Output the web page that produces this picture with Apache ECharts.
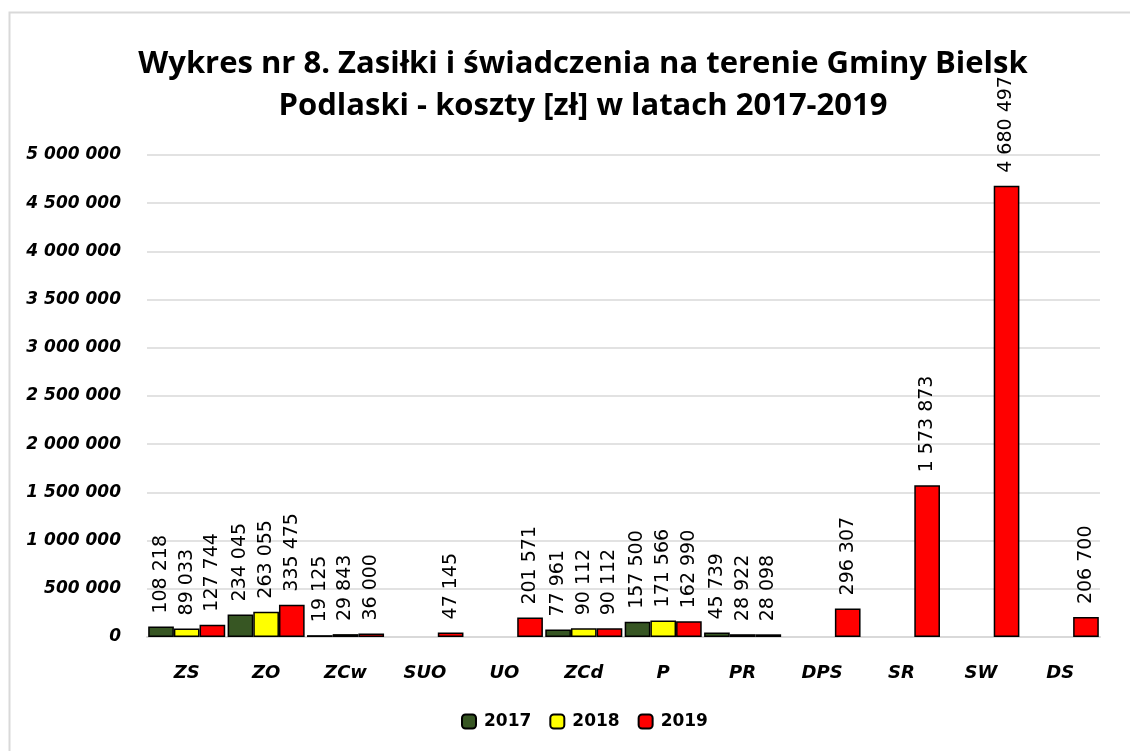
<!DOCTYPE html>
<html>
<head>
<meta charset="utf-8">
<script src="https://cdn.jsdelivr.net/npm/echarts@6/dist/echarts.min.js"></script>
<style>
  html, body { margin: 0; padding: 0; background: #fff; }
  #chart { width: 1130px; height: 751px; }
</style>
</head>
<body>
<div id="chart"></div>
<script>
const categories = ['ZS', 'ZO', 'ZCw', 'SUO', 'UO', 'ZCd', 'P', 'PR', 'DPS', 'SR', 'SW', 'DS']
const years = ['2017', '2018', '2019']
const values2017 = [108218, 234045, 19125, null, null, 77961, 157500, 45739, null, null, null, null]
const values2018 = [89033, 263055, 29843, null, null, 90112, 171566, 28922, null, null, null, null]
const values2019 = [127744, 335475, 36000, 47145, 201571, 90112, 162990, 28098, 296307, 1573873, 4680497, 206700]
const colors = ['#375623', '#ffff00', '#ff0000']

// 1 234 567 style
function spaced(v) {
  return String(v).replace(/\B(?=(\d{3})+(?!\d))/g, ' ')
}

const chart = echarts.init(document.getElementById('chart'))

function makeSeries(name, data, color) {
  return {
    name: name,
    type: 'bar',
    data: data,
    barGap: '0%',
    barCategoryGap: '3%',
    itemStyle: {
      color: color,
      borderColor: '#000',
      borderWidth: 1.5
    },
    label: {
      show: true,
      position: 'top',
      rotate: 90,
      align: 'left',
      verticalAlign: 'middle',
      distance: 13,
      fontFamily: 'DejaVu Sans',
      fontSize: 19,
      color: '#000',
      formatter: p => spaced(p.value)
    }
  }
}

chart.setOption({
  backgroundColor: '#ffffff',
  animation: false,
  graphic: [{
    type: 'rect',
    shape: { x: 9.5, y: 12.5, width: 1140, height: 760 },
    style: { fill: 'none', stroke: '#d9d9d9', lineWidth: 2 }
  }],
  title: {
    text: 'Wykres nr 8. Zasiłki i świadczenia na terenie Gminy Bielsk\nPodlaski - koszty [zł] w latach 2017-2019',
    left: 578,
    textAlign: 'center',
    top: 38,
    textStyle: {
      fontFamily: 'Open Sans',
      fontWeight: 'bold',
      fontSize: 31,
      lineHeight: 42,
      color: '#000'
    }
  },
  legend: {
    data: years,
    bottom: 16,
    left: 456,
    itemWidth: 14,
    itemHeight: 14,
    itemGap: 18,
    textStyle: {
      fontFamily: 'DejaVu Sans',
      fontWeight: 'bold',
      fontSize: 17,
      color: '#000',
      padding: [0, 0, 0, 3]
    }
  },
  grid: {
    left: 147,
    right: 30,
    top: 155,
    bottom: 114,
    containLabel: false
  },
  xAxis: {
    type: 'category',
    data: categories,
    axisLine: { lineStyle: { color: '#d9d9d9', width: 2 } },
    axisTick: { show: false },
    axisLabel: {
      margin: 27,
      fontFamily: 'DejaVu Sans',
      fontWeight: 'bold',
      fontStyle: 'italic',
      fontSize: 18,
      color: '#000'
    }
  },
  yAxis: {
    type: 'value',
    min: 0,
    max: 5000000,
    interval: 500000,
    axisLine: { show: false },
    axisTick: { show: false },
    splitLine: { lineStyle: { color: '#d9d9d9', width: 1.5 } },
    axisLabel: {
      margin: 26,
      fontFamily: 'DejaVu Sans',
      fontWeight: 'bold',
      fontStyle: 'italic',
      fontSize: 17,
      color: '#000',
      formatter: v => spaced(v)
    }
  },
  series: [
    makeSeries(years[0], values2017, colors[0]),
    makeSeries(years[1], values2018, colors[1]),
    makeSeries(years[2], values2019, colors[2])
  ]
})
</script>
</body>
</html>
